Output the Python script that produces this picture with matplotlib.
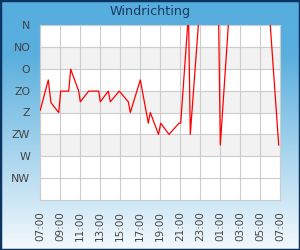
import numpy as np
import matplotlib
matplotlib.use("Agg")
import matplotlib.pyplot as plt
from matplotlib.colors import LinearSegmentedColormap

# Data: hours after 07:00, wind direction in degrees (0 = N, clipped values go off-chart)
hours = [0.03, 0.83, 1.1, 1.87, 2.07, 2.87, 3.07, 3.87, 4.03, 4.87, 5.87, 6.03,
         6.83, 7.03, 7.93, 8.83, 9.03, 10.03, 10.83, 11.03, 11.85, 12.07, 12.9,
         13.9, 14.07, 14.85, 15.03, 16.0, 17.8, 18.03, 19.0, 22.9, 23.87]
degrees = [175, 113, 160, 180, 136, 136, 91, 136, 158, 136, 136, 158,
           136, 158, 136, 158, 180, 113, 202, 180, 225, 202, 225,
           202, 202, -24, 225, -46, -108, 247, -51, -37, 247]
dir_labels = ["N", "NO", "O", "ZO", "Z", "ZW", "W", "NW"]
time_labels = ["07:00", "09:00", "11:00", "13:00", "15:00", "17:00", "19:00",
               "21:00", "23:00", "01:00", "03:00", "05:00", "07:00"]

W, H = 300, 250
fig = plt.figure(figsize=(W / 100, H / 100), dpi=100)

# background gradient
bg = fig.add_axes([0, 0, 1, 1], zorder=0)
cmap = LinearSegmentedColormap.from_list("bg", [(0, "#56aede"), (0.22, "#5aafde"), (1, "#f4f9fd")])
grad = np.linspace(0, 1, 256).reshape(-1, 1)
bg.imshow(grad, aspect="auto", cmap=cmap, extent=[0, 1, 0, 1], origin="upper")
bg.set_axis_off()
bg.add_patch(plt.Rectangle((0, 0), 1, 1, transform=bg.transAxes, fill=False,
                           edgecolor="#0b3560", linewidth=2.5))

L, R, T, B = 40, 280, 25, 200
ax = fig.add_axes([L / W, 1 - B / H, (R - L) / W, (B - T) / H], zorder=1)
ax.set_facecolor("white")
ax.set_xlim(0, 24)
ax.set_ylim(360, 0)

# alternate bands
for lo in (45, 135, 225):
    ax.axhspan(lo, lo + 45, color="#f2f2f2", zorder=0, linewidth=0)

ax.set_yticks(np.arange(0, 360, 45))
ax.set_yticklabels(dir_labels)
ax.set_xticks(np.arange(0, 25, 2))
ax.set_xticklabels(time_labels, rotation=90)
ax.grid(True, color="#cccccc", linewidth=0.8, zorder=0.5)
ax.set_axisbelow(True)
ax.tick_params(length=0, colors="#444444")
ax.tick_params(axis="y", labelsize=7.9, pad=7)
ax.tick_params(axis="x", labelsize=7.5, pad=8)
for s in ax.spines.values():
    s.set_color("#cccccc")
    s.set_linewidth(0.8)

ax.plot(hours, degrees, color="#ff0000", linewidth=0.9, zorder=3)

fig.text(0.5, 1 - 12 / H, "Windrichting", ha="center", va="center",
         fontsize=9.2, color="#1b3a5e")

fig.savefig("out.png", dpi=100)
